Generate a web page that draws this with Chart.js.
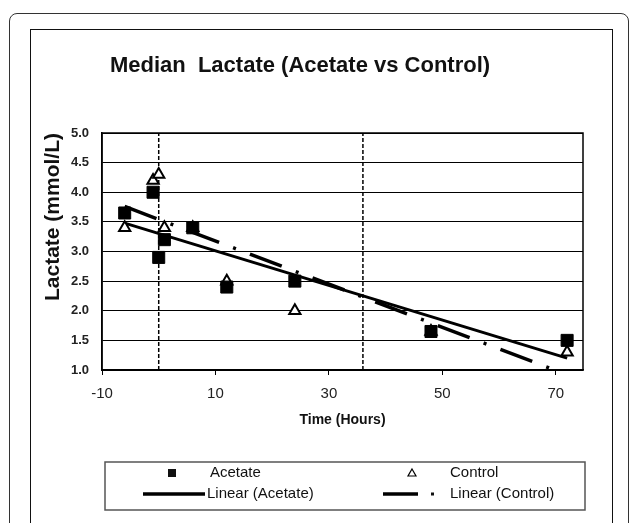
<!DOCTYPE html>
<html>
<head>
<meta charset="utf-8">
<title>Median Lactate (Acetate vs Control)</title>
<script src="https://cdn.jsdelivr.net/npm/chart.js@4.4.1/dist/chart.umd.min.js"></script>
<style>
  body { margin: 0; background: #fff; }
  #outer { position: absolute; left: 9px; top: 13px; width: 620px; height: 540px; border: 1.5px solid #333; border-radius: 8px; box-sizing: border-box; }
  #inner { position: absolute; left: 30px; top: 29px; width: 583px; height: 520px; border: 1px solid #111; box-sizing: border-box; }
  #chart { position: absolute; left: 0; top: 0; }
</style>
</head>
<body>
<div id="outer"></div>
<div id="inner"></div>
<canvas id="chart" width="629" height="523"></canvas>
<script>
// values
const hours = [-6, -1, 0, 1, 6, 12, 24, 48, 72];
const acetate = [3.65, 4.0, 2.9, 3.2, 3.4, 2.4, 2.5, 1.65, 1.5];
const control = [3.4, 4.2, 4.3, 3.4, 3.4, 2.5, 2.0, 1.65, 1.3];

// trend lines (end points)
const trendHours = [-6, 72];
const acetateTrend = [3.48, 1.20];
const controlTrend = [3.76, 0.92];

// dashed reference lines
const markerHours = [0, 36];

const xTicks = [-10, 10, 30, 50, 70];
const yTicks = [1.0, 1.5, 2.0, 2.5, 3.0, 3.5, 4.0, 4.5, 5.0];
const yMin = 1, yMax = 5;

const family = "'Liberation Sans', Arial, sans-serif";
Chart.defaults.font.family = family;

function pts(xs, ys) {
    return xs.map(function(x, i) { return {x: x, y: ys[i]}; });
}

// border round the plot + legend box at the bottom
const extras = {
    id: 'extras',
    afterDraw(chart) {
        const c = chart.ctx;
        const a = chart.chartArea;
        c.save();
        c.strokeStyle = '#000';
        c.lineWidth = 1.5;
        c.strokeRect(a.left, a.top, a.right - a.left, a.bottom - a.top);

        // legend
        const ds = chart.data.datasets;
        c.strokeStyle = '#555';
        c.lineWidth = 1.5;
        c.strokeRect(105, 462, 480, 48);
        c.fillStyle = '#111';
        c.font = '15px ' + family;
        c.textBaseline = 'middle';
        c.textAlign = 'left';
        const r1 = 473, r2 = 494;
        // Acetate
        c.fillRect(168, r1 - 4, 8, 8);
        c.fillText(ds[0].label, 210, r1);
        // Control
        c.beginPath();
        c.moveTo(412, r1 - 4);
        c.lineTo(416, r1 + 3);
        c.lineTo(408, r1 + 3);
        c.closePath();
        c.fillStyle = '#fff';
        c.fill();
        c.strokeStyle = '#000';
        c.lineWidth = 1.2;
        c.stroke();
        c.fillStyle = '#111';
        c.fillText(ds[1].label, 450, r1);
        // Linear (Acetate)
        c.lineWidth = 3.5;
        c.beginPath();
        c.moveTo(143, r2);
        c.lineTo(205, r2);
        c.stroke();
        c.fillText(ds[2].label, 207, r2);
        // Linear (Control)
        c.beginPath();
        c.moveTo(383, r2);
        c.lineTo(418, r2);
        c.stroke();
        c.fillRect(431, r2 - 1.5, 3, 3);
        c.fillText(ds[3].label, 450, r2);
        c.restore();
    }
};

const datasets = [
    {
        label: 'Acetate',
        data: pts(hours, acetate),
        pointStyle: 'rect',
        pointRadius: 8.5,
        backgroundColor: '#000',
        borderColor: '#000',
        borderWidth: 1,
    },
    {
        label: 'Control',
        data: pts(hours, control),
        pointStyle: 'triangle',
        pointRadius: 6.5,
        backgroundColor: '#fff',
        borderColor: '#000',
        borderWidth: 2,
    },
    {
        label: 'Linear (Acetate)',
        data: pts(trendHours, acetateTrend),
        showLine: true,
        pointRadius: 0,
        borderColor: '#000',
        borderWidth: 3,
        clip: 0,
    },
    {
        label: 'Linear (Control)',
        data: pts(trendHours, controlTrend),
        showLine: true,
        pointRadius: 0,
        borderColor: '#000',
        borderWidth: 3.5,
        borderDash: [34, 15, 3, 15],
        clip: 0,
    },
];
markerHours.forEach(function(h) {
    datasets.push({
        label: 'ref' + h,
        data: [{x: h, y: yMin}, {x: h, y: yMax}],
        showLine: true,
        pointRadius: 0,
        borderColor: '#000',
        borderWidth: 1.5,
        borderDash: [4, 2],
        clip: 0,
    });
});

const ctx = document.getElementById('chart').getContext('2d');
const myChart = new Chart(ctx, {
    type: 'scatter',
    data: { datasets: datasets },
    options: {
        responsive: false,
        animation: false,
        layout: { padding: { left: 17, right: 46, top: 0, bottom: 0 } },
        plugins: {
            legend: { display: false },
            tooltip: { enabled: false },
            title: {
                display: true,
                text: 'Median  Lactate (Acetate vs Control)',
                color: '#111',
                font: { size: 22, weight: 'bold' },
                padding: { top: 52.8, bottom: 53.8 },
            },
        },
        scales: {
            x: {
                type: 'linear',
                min: -10,
                max: 74.8,
                afterBuildTicks: function(s) { s.ticks = xTicks.map(function(v) { return {value: v}; }); },
                afterFit: function(s) { s.height = 153; },
                grid: { drawOnChartArea: false, drawTicks: true, tickLength: 5, color: '#000', lineWidth: 1 },
                border: { color: '#000', width: 1.5 },
                ticks: { color: '#222', font: { size: 15 }, padding: 10, maxRotation: 0, autoSkip: false },
                title: {
                    display: true,
                    text: 'Time (Hours)',
                    color: '#111',
                    font: { size: 14, weight: 'bold' },
                    padding: { top: 0, bottom: 94.6 },
                },
            },
            y: {
                min: yMin,
                max: yMax,
                afterBuildTicks: function(s) { s.ticks = yTicks.map(function(v) { return {value: v}; }); },
                afterFit: function(s) { s.width = 85; },
                grid: { color: '#000', lineWidth: 1, drawTicks: false },
                border: { color: '#000', width: 1.5 },
                ticks: {
                    color: '#222',
                    font: { size: 13, weight: 'bold' },
                    padding: 13,
                    callback: function(v) { return v.toFixed(1); },
                },
                title: {
                    display: true,
                    text: 'Lactate (mmol/L)',
                    align: 'end',
                    color: '#111',
                    font: { size: 21, weight: 'bold' },
                    padding: { top: 23.4, bottom: 0 },
                },
            },
        },
    },
    plugins: [extras],
});
</script>
</body>
</html>
